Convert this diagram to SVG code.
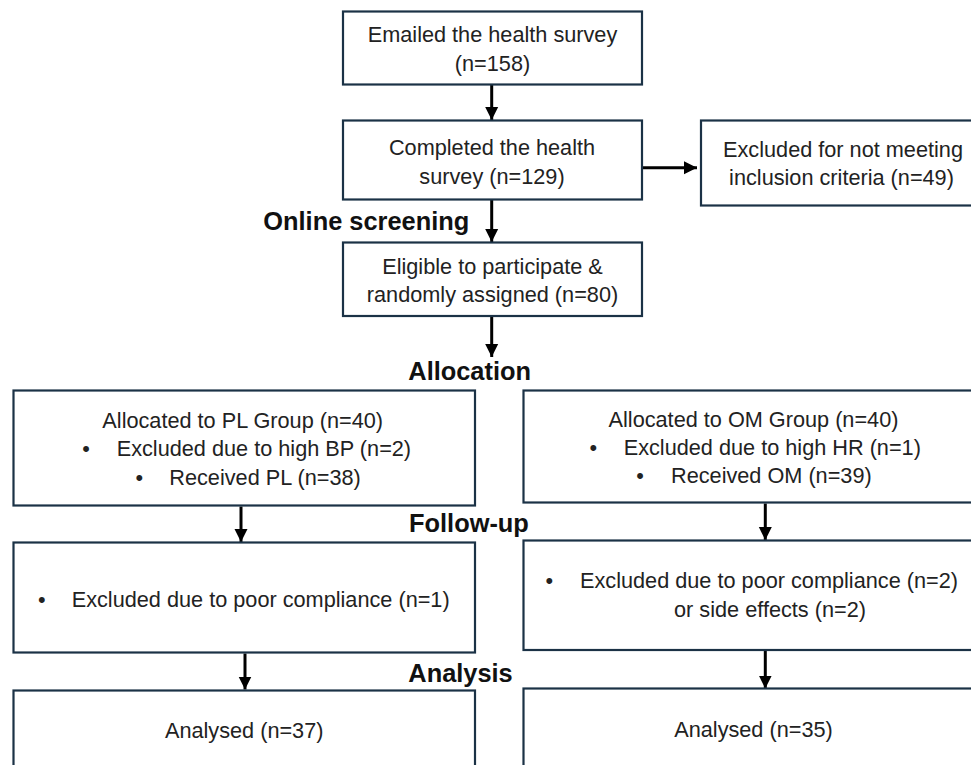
<svg xmlns="http://www.w3.org/2000/svg" width="971" height="765" viewBox="0 0 971 765">
  <defs>
    <style>
      .box { fill: #ffffff; stroke: #1b3246; stroke-width: 2.2; }
      .t { font-family: "Liberation Sans", Arial, sans-serif; font-size: 21.7px; fill: #222222; }
      .c { text-anchor: middle; }
      .lbl { font-family: "Liberation Sans", Arial, sans-serif; font-size: 25.4px; font-weight: bold; fill: #111111; }
      .arr { stroke: #000000; stroke-width: 3; fill: none; marker-end: url(#ah); }
    </style>
    <marker id="ah" markerUnits="userSpaceOnUse" markerWidth="14" markerHeight="14" viewBox="0 0 14 14" refX="13" refY="7" orient="auto">
      <path d="M0,0.5 L13,7 L0,13.5 Z" fill="#000000"/>
    </marker>
  </defs>
  <rect width="971" height="765" fill="#ffffff"/>

  <g id="connectors">
    <line class="arr" x1="491.7" y1="85" x2="491.7" y2="120"/>
    <line class="arr" x1="491.7" y1="200" x2="491.7" y2="242"/>
    <line class="arr" x1="491.7" y1="317" x2="491.7" y2="357"/>
    <line class="arr" x1="643" y1="167.7" x2="697" y2="167.7"/>
    <line class="arr" x1="241" y1="506.5" x2="241" y2="542"/>
    <line class="arr" x1="245" y1="653.5" x2="245" y2="689.5"/>
    <line class="arr" x1="765.3" y1="503.5" x2="765.3" y2="540"/>
    <line class="arr" x1="765.3" y1="651" x2="765.3" y2="688.5"/>
  </g>

  <g id="labels">
    <text class="lbl" x="263.3" y="230">Online screening</text>
    <text class="lbl" x="408.3" y="380">Allocation</text>
    <text class="lbl" x="409" y="531.7">Follow-up</text>
    <text class="lbl" x="408.3" y="681.7">Analysis</text>
  </g>

  <g id="emailed">
    <rect class="box" x="343" y="11.5" width="299" height="73"/>
    <text class="t c" x="492.5" y="42.3">Emailed the health survey</text>
    <text class="t c" x="492.5" y="70.7">(n=158)</text>
  </g>

  <g id="completed">
    <rect class="box" x="343" y="120.5" width="299" height="79"/>
    <text class="t c" x="492" y="155">Completed the health</text>
    <text class="t c" x="492" y="184">survey (n=129)</text>
  </g>

  <g id="excluded-criteria">
    <rect class="box" x="701" y="120.5" width="290" height="85"/>
    <text class="t c" x="843" y="156.7">Excluded for not meeting</text>
    <text class="t c" x="841.5" y="185">inclusion criteria (n=49)</text>
  </g>

  <g id="eligible">
    <rect class="box" x="343" y="242.5" width="299" height="73.5"/>
    <text class="t c" x="492.5" y="274">Eligible to participate &amp;</text>
    <text class="t c" x="492.5" y="302">randomly assigned (n=80)</text>
  </g>

  <g id="pl-allocated">
    <rect class="box" x="13.5" y="390.5" width="461.5" height="115"/>
    <text class="t c" x="242.7" y="427.7">Allocated to PL Group (n=40)</text>
    <text class="t c" x="86" y="456">•</text>
    <text class="t" x="116.7" y="456">Excluded due to high BP (n=2)</text>
    <text class="t c" x="139.3" y="485">•</text>
    <text class="t" x="169.3" y="485">Received PL (n=38)</text>
  </g>

  <g id="om-allocated">
    <rect class="box" x="523.5" y="390.5" width="462" height="112"/>
    <text class="t c" x="753.5" y="426.7">Allocated to OM Group (n=40)</text>
    <text class="t c" x="593.3" y="454.5">•</text>
    <text class="t" x="623.7" y="454.5">Excluded due to high HR (n=1)</text>
    <text class="t c" x="640" y="483.3">•</text>
    <text class="t" x="671" y="483.3">Received OM (n=39)</text>
  </g>

  <g id="pl-followup">
    <rect class="box" x="13.5" y="542.5" width="461.5" height="110"/>
    <text class="t c" x="41.7" y="606.7">•</text>
    <text class="t" x="71.7" y="606.7">Excluded due to poor compliance (n=1)</text>
  </g>

  <g id="om-followup">
    <rect class="box" x="523.5" y="540.5" width="462" height="109.5"/>
    <text class="t c" x="549.3" y="588.3">•</text>
    <text class="t" x="580" y="588.3">Excluded due to poor compliance (n=2)</text>
    <text class="t c" x="770" y="617.3">or side effects (n=2)</text>
  </g>

  <g id="pl-analysed">
    <rect class="box" x="13.5" y="690.5" width="461.5" height="100"/>
    <text class="t c" x="244.2" y="738.3">Analysed (n=37)</text>
  </g>

  <g id="om-analysed">
    <rect class="box" x="523.5" y="688.5" width="462" height="100"/>
    <text class="t c" x="753.5" y="736.5">Analysed (n=35)</text>
  </g>
</svg>
